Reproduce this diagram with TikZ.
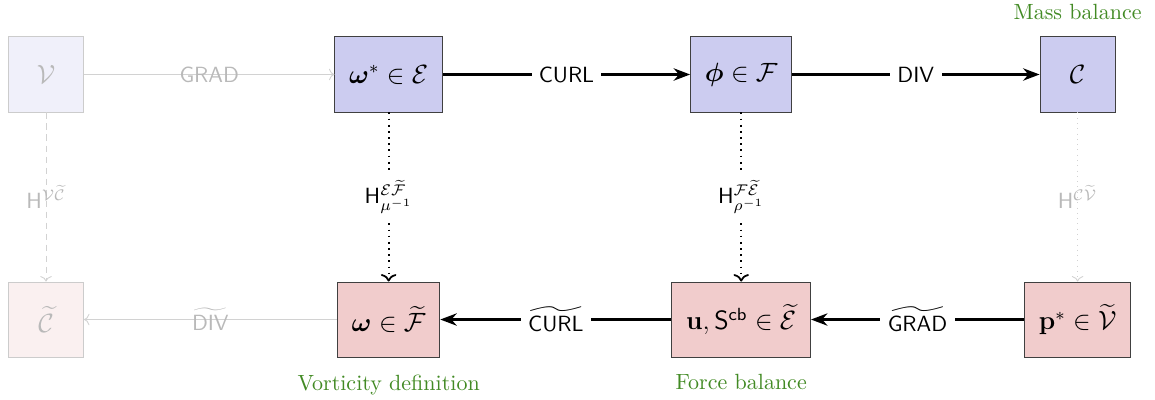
\documentclass[tikz,border=0pt]{standalone}
\usepackage{amsmath}
\usepackage{amssymb}
\usepackage{bm}
\usepackage{tikz}
\usepackage{xcolor}
\usetikzlibrary{arrows.meta, positioning}

\definecolor{primalfill}{RGB}{204,204,240}
\definecolor{dualfill}{RGB}{241,204,204}
\definecolor{ghostprimal}{RGB}{240,240,250}
\definecolor{ghostdual}{RGB}{250,240,240}
\definecolor{balance}{RGB}{66,138,36}

\begin{document}
\begin{tikzpicture}[
  box/.style={draw=black!75, minimum width=1.2cm, minimum height=1.2cm, inner sep=6.5pt, font=\large},
  primal/.style={box, fill=primalfill},
  dual/.style={box, fill=dualfill},
  ghost/.style={box, draw=gray!40, text=gray!55},
  op/.style={line width=1pt, -{Stealth}},
  hodge/.style={thick, dotted, -{To}},
  faint/.style={gray!35, -{To}},
  lbl/.style={midway, fill=white, font=\normalsize},
  faintlbl/.style={midway, text=gray!55, font=\normalsize},
  tag/.style={text=balance, font=\normalsize}
]

\useasboundingbox (-0.735,-5.184) rectangle (17.715,1.19);

% ========== primal row ==========
\node[ghost, fill=ghostprimal] (V) at (0,0) {$\mathcal{V}$};
\node[primal, right=4cm of V] (E) {$\bm{\omega}^* \in \mathcal{E}$};
\node[primal, right=3.95cm of E] (F) {$\bm{\phi} \in \mathcal{F}$};
\node[primal, right=3.95cm of F,
      label={[tag, label distance=1.5mm]above:Mass balance}] (C) {$\mathcal{C}$};

% ========== dual row ==========
\node[ghost, fill=ghostdual, below=2.7cm of V] (Ct) {$\widetilde{\mathcal{C}}$};
\node[dual, below=2.7cm of E,
      label={[tag, label distance=1.5mm]below:Vorticity definition}] (Ft) {$\bm{\omega} \in \widetilde{\mathcal{F}}$};
\node[dual, below=2.7cm of F,
      label={[tag, label distance=1.5mm]below:Force balance}] (Et) {$\mathbf{u}, \mathsf{S}^{\mathsf{cb}} \in \widetilde{\mathcal{E}}$};
\node[dual, below=2.7cm of C] (Vt) {$\mathbf{p}^* \in \widetilde{\mathcal{V}}$};

% top operators
\draw[faint] (V) -- node[faintlbl] {$\mathsf{GRAD}$} (E);
\draw[op] (E) -- node[lbl] {$\mathsf{CURL}$} (F);
\draw[op] (F) -- node[lbl] {$\mathsf{DIV}$} (C);

% Hodge maps
\draw[faint, densely dashed] (V) -- node[faintlbl] {$\mathsf{H}^{\mathcal{V}\widetilde{\mathcal{C}}}$} (Ct);
\draw[hodge] (E) -- node[lbl] {$\mathsf{H}^{\mathcal{E}\widetilde{\mathcal{F}}}_{\mu^{-1}}$} (Ft);
\draw[hodge] (F) -- node[lbl] {$\mathsf{H}^{\mathcal{F}\widetilde{\mathcal{E}}}_{\rho^{-1}}$} (Et);
\draw[faint, dotted] (C) -- node[faintlbl] {$\mathsf{H}^{\mathcal{C}\widetilde{\mathcal{V}}}$} (Vt);

% bottom operators
\draw[op] (Vt) -- node[lbl] {$\widetilde{\mathsf{GRAD}}$} (Et);
\draw[op] (Et) -- node[lbl] {$\widetilde{\mathsf{CURL}}$} (Ft);
\draw[faint] (Ft) -- node[faintlbl] {$\widetilde{\mathsf{DIV}}$} (Ct);

\end{tikzpicture}
\end{document}
